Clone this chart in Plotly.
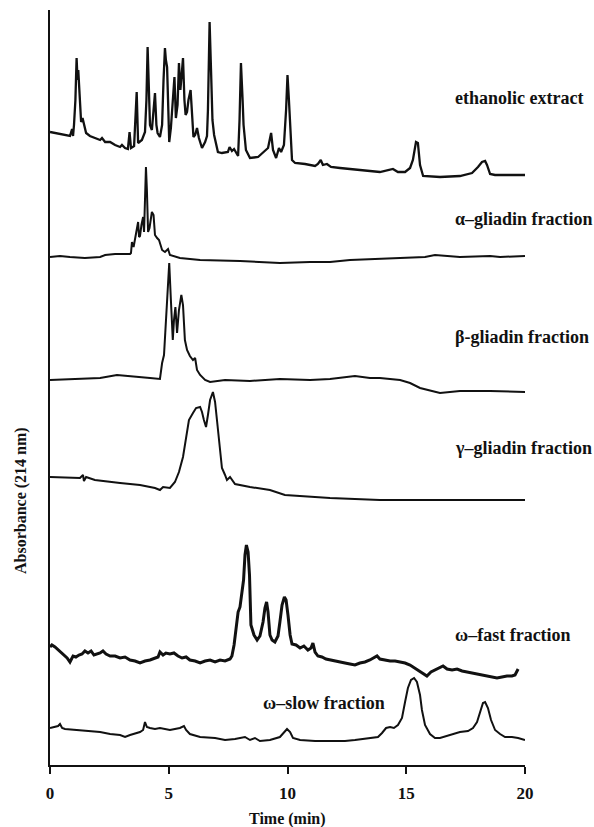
import plotly.graph_objects as go

# ---------------- data (time in min, absorbance in arbitrary units relative to each trace's start) ----
t_eth = [0, 0.42, 0.84, 0.93, 0.97, 1.01, 1.07, 1.12, 1.16, 1.19, 1.22, 1.26, 1.31, 1.37, 1.43, 1.52, 1.68, 1.89,
         2.11, 2.19, 2.32, 2.53, 2.74, 2.95, 3.03, 3.16, 3.28, 3.35, 3.41, 3.54, 3.6, 3.65, 3.71, 3.87, 4.0, 4.06,
         4.11, 4.17, 4.21, 4.29, 4.36, 4.42, 4.48, 4.53, 4.63, 4.72, 4.78, 4.84, 4.88, 4.93, 4.97, 5.02, 5.09, 5.18,
         5.24, 5.3, 5.37, 5.43, 5.49, 5.56, 5.6, 5.66, 5.71, 5.77, 5.83, 5.92, 5.98, 6.04, 6.11, 6.19, 6.27, 6.4,
         6.53, 6.61, 6.65, 6.72, 6.78, 6.84, 6.91, 7.07, 7.24, 7.49, 7.56, 7.66, 7.75, 7.83, 7.92, 7.98, 8.04, 8.11,
         8.15, 8.25, 8.42, 8.76, 9.01, 9.18, 9.31, 9.39, 9.52, 9.64, 9.73, 9.85, 9.94, 10.0, 10.06, 10.13, 10.19,
         10.32, 10.74, 11.16, 11.28, 11.4, 11.49, 11.66, 11.83, 12.21, 13.05, 13.89, 14.44, 14.65, 14.95, 15.16,
         15.28, 15.41, 15.49, 15.58, 15.71, 16.42, 17.26, 17.77, 18.02, 18.19, 18.32, 18.4, 18.53, 18.74, 20.0]
a_eth = [0, -2, -4, 3, -4, 7, 32, 74, 52, 62, 50, 40, 10, 14, 9, -1, -4, -6,
         -8, -6, -10, -10, -13, -15, -13, -16, -17, 0, -16, -14, 12, 40, -11, -8, 0, 32,
         85, 32, 7, 2, 22, 39, 7, -1, -5, 7, 52, 84, 72, 65, 32, -10, 4, 37,
         55, 14, 27, 69, 42, 62, 74, 32, 17, 20, 32, 42, 14, -5, -3, 4, -6, -16,
         -10, -4, 22, 110, 62, 12, -3, -20, -21, -20, -15, -19, -17, -20, -24, 12, 69, 32,
         7, -18, -26, -25, -20, -16, -1, -18, -26, -16, -20, -13, 22, 57, 32, -8, -28,
         -31, -32, -34, -32, -28, -33, -32, -35, -36, -38, -40, -37, -40, -40, -36,
         -28, -10, -11, -33, -44, -45, -44, -41, -35, -30, -29, -33, -42, -43, -43]

t_alpha = [0, 0.42, 0.84, 1.47, 2.11, 2.32, 2.74, 3.37, 3.41, 3.45, 3.52, 3.58, 3.64, 3.71, 3.75, 3.79, 3.85,
           3.92, 3.96, 4.0, 4.04, 4.08, 4.13, 4.19, 4.25, 4.29, 4.36, 4.42, 4.51, 4.59, 4.72, 4.84, 4.97, 5.05,
           5.47, 6.32, 8.0, 9.68, 10.95, 11.79, 12.63, 13.89, 14.74, 15.79, 16.21, 16.63, 17.26, 18.53, 18.95, 20.0]
a_alpha = [0, 1, 0, -1, 0, 2, 3, 3, 4, 15, 10, 19, 27, 35, 20, 21, 32,
           40, 25, 57, 90, 67, 25, 29, 42, 45, 42, 22, 19, 17, 7, 5, 8, 2,
           -1, -3, -4, -6, -5, -5, -3, -2, -1, 0, 2, 1, 0, 1, 0, 1]

t_beta = [0, 1.05, 2.11, 2.82, 3.58, 4.21, 4.63, 4.72, 4.8, 4.88, 4.95, 5.02, 5.09, 5.17, 5.22, 5.28, 5.35, 5.43,
          5.53, 5.6, 5.68, 5.77, 5.89, 6.02, 6.11, 6.19, 6.32, 6.53, 6.74, 7.37, 8.42, 9.68, 10.95, 11.79, 12.84,
          13.47, 13.89, 14.74, 15.16, 15.58, 16.42, 17.26, 18.53, 20.0]
a_beta = [0, 1, 2, 5, 3, 2, 1, 17, 25, 60, 90, 117, 80, 40, 60, 73, 47, 70,
          85, 75, 40, 30, 24, 20, 22, 10, 5, 0, -2, 0, -1, 1, 0, 1, 4,
          2, 2, 0, -3, -8, -13, -11, -11, -12]

t_gamma = [0, 0.84, 1.26, 1.39, 1.43, 1.52, 1.89, 2.95, 3.79, 4.42, 4.63, 4.76, 5.05, 5.26, 5.43, 5.6, 5.73,
           5.85, 6.02, 6.15, 6.32, 6.4, 6.48, 6.57, 6.65, 6.74, 6.86, 6.95, 7.03, 7.12, 7.24, 7.37, 7.45, 7.58,
           7.79, 8.42, 9.26, 9.89, 10.53, 11.79, 13.89, 15.58, 17.26, 20.0]
a_gamma = [0, -1, -1, 2, -4, 0, -3, -6, -8, -11, -13, -10, -11, -5, 5, 20, 42,
           57, 64, 69, 70, 65, 57, 50, 62, 77, 85, 75, 57, 37, 9, 2, -3, 0,
           -7, -10, -13, -18, -19, -21, -23, -23, -23, -23]

t_wfast = [0, 0.08, 0.21, 0.34, 0.46, 0.59, 0.72, 0.84, 0.97, 1.09, 1.22, 1.35, 1.47, 1.6, 1.73, 1.85, 1.98,
           2.11, 2.23, 2.36, 2.53, 2.74, 2.95, 3.16, 3.37, 3.58, 3.79, 4.0, 4.21, 4.42, 4.55, 4.63, 4.76, 4.88,
           5.05, 5.22, 5.39, 5.56, 5.73, 5.89, 6.11, 6.32, 6.53, 6.74, 6.95, 7.16, 7.37, 7.58, 7.66, 7.75, 7.83,
           7.92, 8.0, 8.08, 8.15, 8.21, 8.27, 8.34, 8.4, 8.46, 8.59, 8.72, 8.84, 8.97, 9.05, 9.12, 9.18, 9.26,
           9.35, 9.47, 9.6, 9.68, 9.77, 9.87, 9.94, 10.02, 10.11, 10.19, 10.36, 10.53, 10.69, 10.86, 10.99, 11.07,
           11.16, 11.28, 11.45, 11.62, 11.79, 12.0, 12.21, 12.42, 12.63, 12.84, 13.05, 13.26, 13.47, 13.64, 13.77,
           13.89, 14.11, 14.32, 14.53, 14.74, 14.95, 15.16, 15.37, 15.58, 15.75, 15.87, 16.04, 16.21, 16.38, 16.55,
           16.72, 16.93, 17.14, 17.35, 17.56, 17.77, 17.98, 18.19, 18.4, 18.61, 18.82, 19.03, 19.24, 19.45, 19.58,
           19.71]
a_wfast = [0, 2, 0, -3, -5, -8, -11, -15, -9, -10, -8, -7, -4, -6, -4, -8, -7,
           -6, -4, -7, -9, -9, -11, -10, -13, -14, -16, -14, -13, -11, -10, -5, -8, -6,
           -7, -6, -9, -11, -10, -13, -14, -16, -14, -13, -15, -13, -14, -12, -9, 2, 17,
           35, 40, 52, 67, 92, 102, 95, 72, 22, 12, 7, 11, 25, 39, 45, 35, 12,
           7, 5, 11, 25, 42, 50, 47, 32, 12, 3, 2, -1, 1, -3, -1, 4,
           -5, -9, -10, -12, -13, -14, -15, -16, -17, -18, -16, -15, -13, -11, -9,
           -12, -13, -14, -14, -15, -16, -18, -21, -24, -27, -29, -25, -23, -21, -19,
           -22, -23, -22, -24, -25, -26, -27, -28, -29, -30, -31, -30, -29, -29, -28,
           -22]

t_wslow = [0, 0.21, 0.34, 0.42, 0.51, 0.63, 1.26, 2.11, 2.53, 2.95, 3.16, 3.37, 3.79, 3.92, 4.0, 4.08, 4.21,
           4.42, 4.63, 4.84, 5.05, 5.26, 5.47, 5.64, 5.73, 5.89, 6.32, 6.95, 7.37, 7.79, 8.21, 8.42, 8.63, 8.84,
           9.26, 9.68, 9.85, 9.98, 10.11, 10.23, 10.53, 11.16, 11.79, 12.42, 12.84, 13.47, 13.81, 13.98, 14.15,
           14.32, 14.48, 14.65, 14.82, 14.95, 15.07, 15.2, 15.33, 15.45, 15.58, 15.66, 15.79, 16.0, 16.21, 16.42,
           16.84, 17.26, 17.6, 17.81, 17.98, 18.11, 18.23, 18.32, 18.44, 18.57, 18.74, 18.95, 19.16, 19.45, 19.71,
           20.0]
a_wslow = [0, 1, 2, 4, 0, -1, -2, -4, -6, -7, -9, -7, -4, -2, 6, 1, 0,
           -1, 0, -1, -2, -1, 0, 2, -2, -6, -9, -10, -12, -11, -9, -12, -10, -13,
           -12, -9, -5, -1, -4, -10, -12, -13, -13, -13, -12, -10, -9, -5, 0,
           1, 0, 3, 10, 26, 40, 48, 50, 46, 33, 18, 3, -6, -10, -10,
           -7, -4, -3, 0, 6, 16, 25, 26, 20, 8, -2, -6, -9, -9, -10,
           -12]

names = ["ethanolic extract", "α–gliadin fraction", "β-gliadin fraction",
         "γ–gliadin fraction", "ω–fast fraction", "ω–slow fraction"]
times = [t_eth, t_alpha, t_beta, t_gamma, t_wfast, t_wslow]
absorb = [a_eth, a_alpha, a_beta, a_gamma, a_wfast, a_wslow]
offsets = [633, 508, 385, 288, 118, 37]

# ---------------- styling ----------------
widths = [2.3, 2.0, 2.0, 2.0, 3.0, 2.0]
label_pos = [(16.95, 667), (16.95, 546), (16.95, 428), (16.95, 317), (16.95, 130), (8.9, 62)]
FONT = "Liberation Serif"
INK = "#111111"

fig = go.Figure()
for name, t, a, off, w in zip(names, times, absorb, offsets, widths):
    fig.add_trace(go.Scatter(x=t, y=[v + off for v in a], mode="lines", name=name,
                             line=dict(color=INK, width=w, shape="linear"),
                             showlegend=False, hoverinfo="skip"))

annotations = []
for name, (lx, ly) in zip(names, label_pos):
    annotations.append(dict(x=lx, y=ly, xref="x", yref="y", text="<b>%s</b>" % name,
                            showarrow=False, xanchor="left", yanchor="middle",
                            font=dict(family=FONT, size=18, color=INK)))
annotations.append(dict(x=-0.061, y=264, xref="paper", yref="y", text="<b>Absorbance (214 nm)</b>",
                        textangle=-90, showarrow=False, xanchor="center", yanchor="middle",
                        font=dict(family=FONT, size=16, color=INK)))
annotations.append(dict(x=10, y=-0.0715, xref="x", yref="paper", text="<b>Time (min)</b>",
                        showarrow=False, xanchor="center", yanchor="middle",
                        font=dict(family=FONT, size=16, color=INK)))

fig.update_layout(
    width=594, height=827,
    margin=dict(l=50, r=69, t=10, b=62),
    paper_bgcolor="white", plot_bgcolor="white",
    annotations=annotations,
    xaxis=dict(range=[0, 20], tickvals=[0, 5, 10, 15, 20], ticktext=["<b>0</b>", "<b>5</b>", "<b>10</b>", "<b>15</b>", "<b>20</b>"],
               showline=True, linecolor=INK, linewidth=1.6, ticks="outside", ticklen=7,
               tickwidth=1.5, tickcolor=INK, showgrid=False, zeroline=False,
               tickfont=dict(family=FONT, size=17, color=INK), ticklabelstandoff=5),
    yaxis=dict(range=[0, 755], showline=True, linecolor=INK, linewidth=1.6, ticks="",
               showticklabels=False, showgrid=False, zeroline=False),
)

fig.write_html("out.html")
